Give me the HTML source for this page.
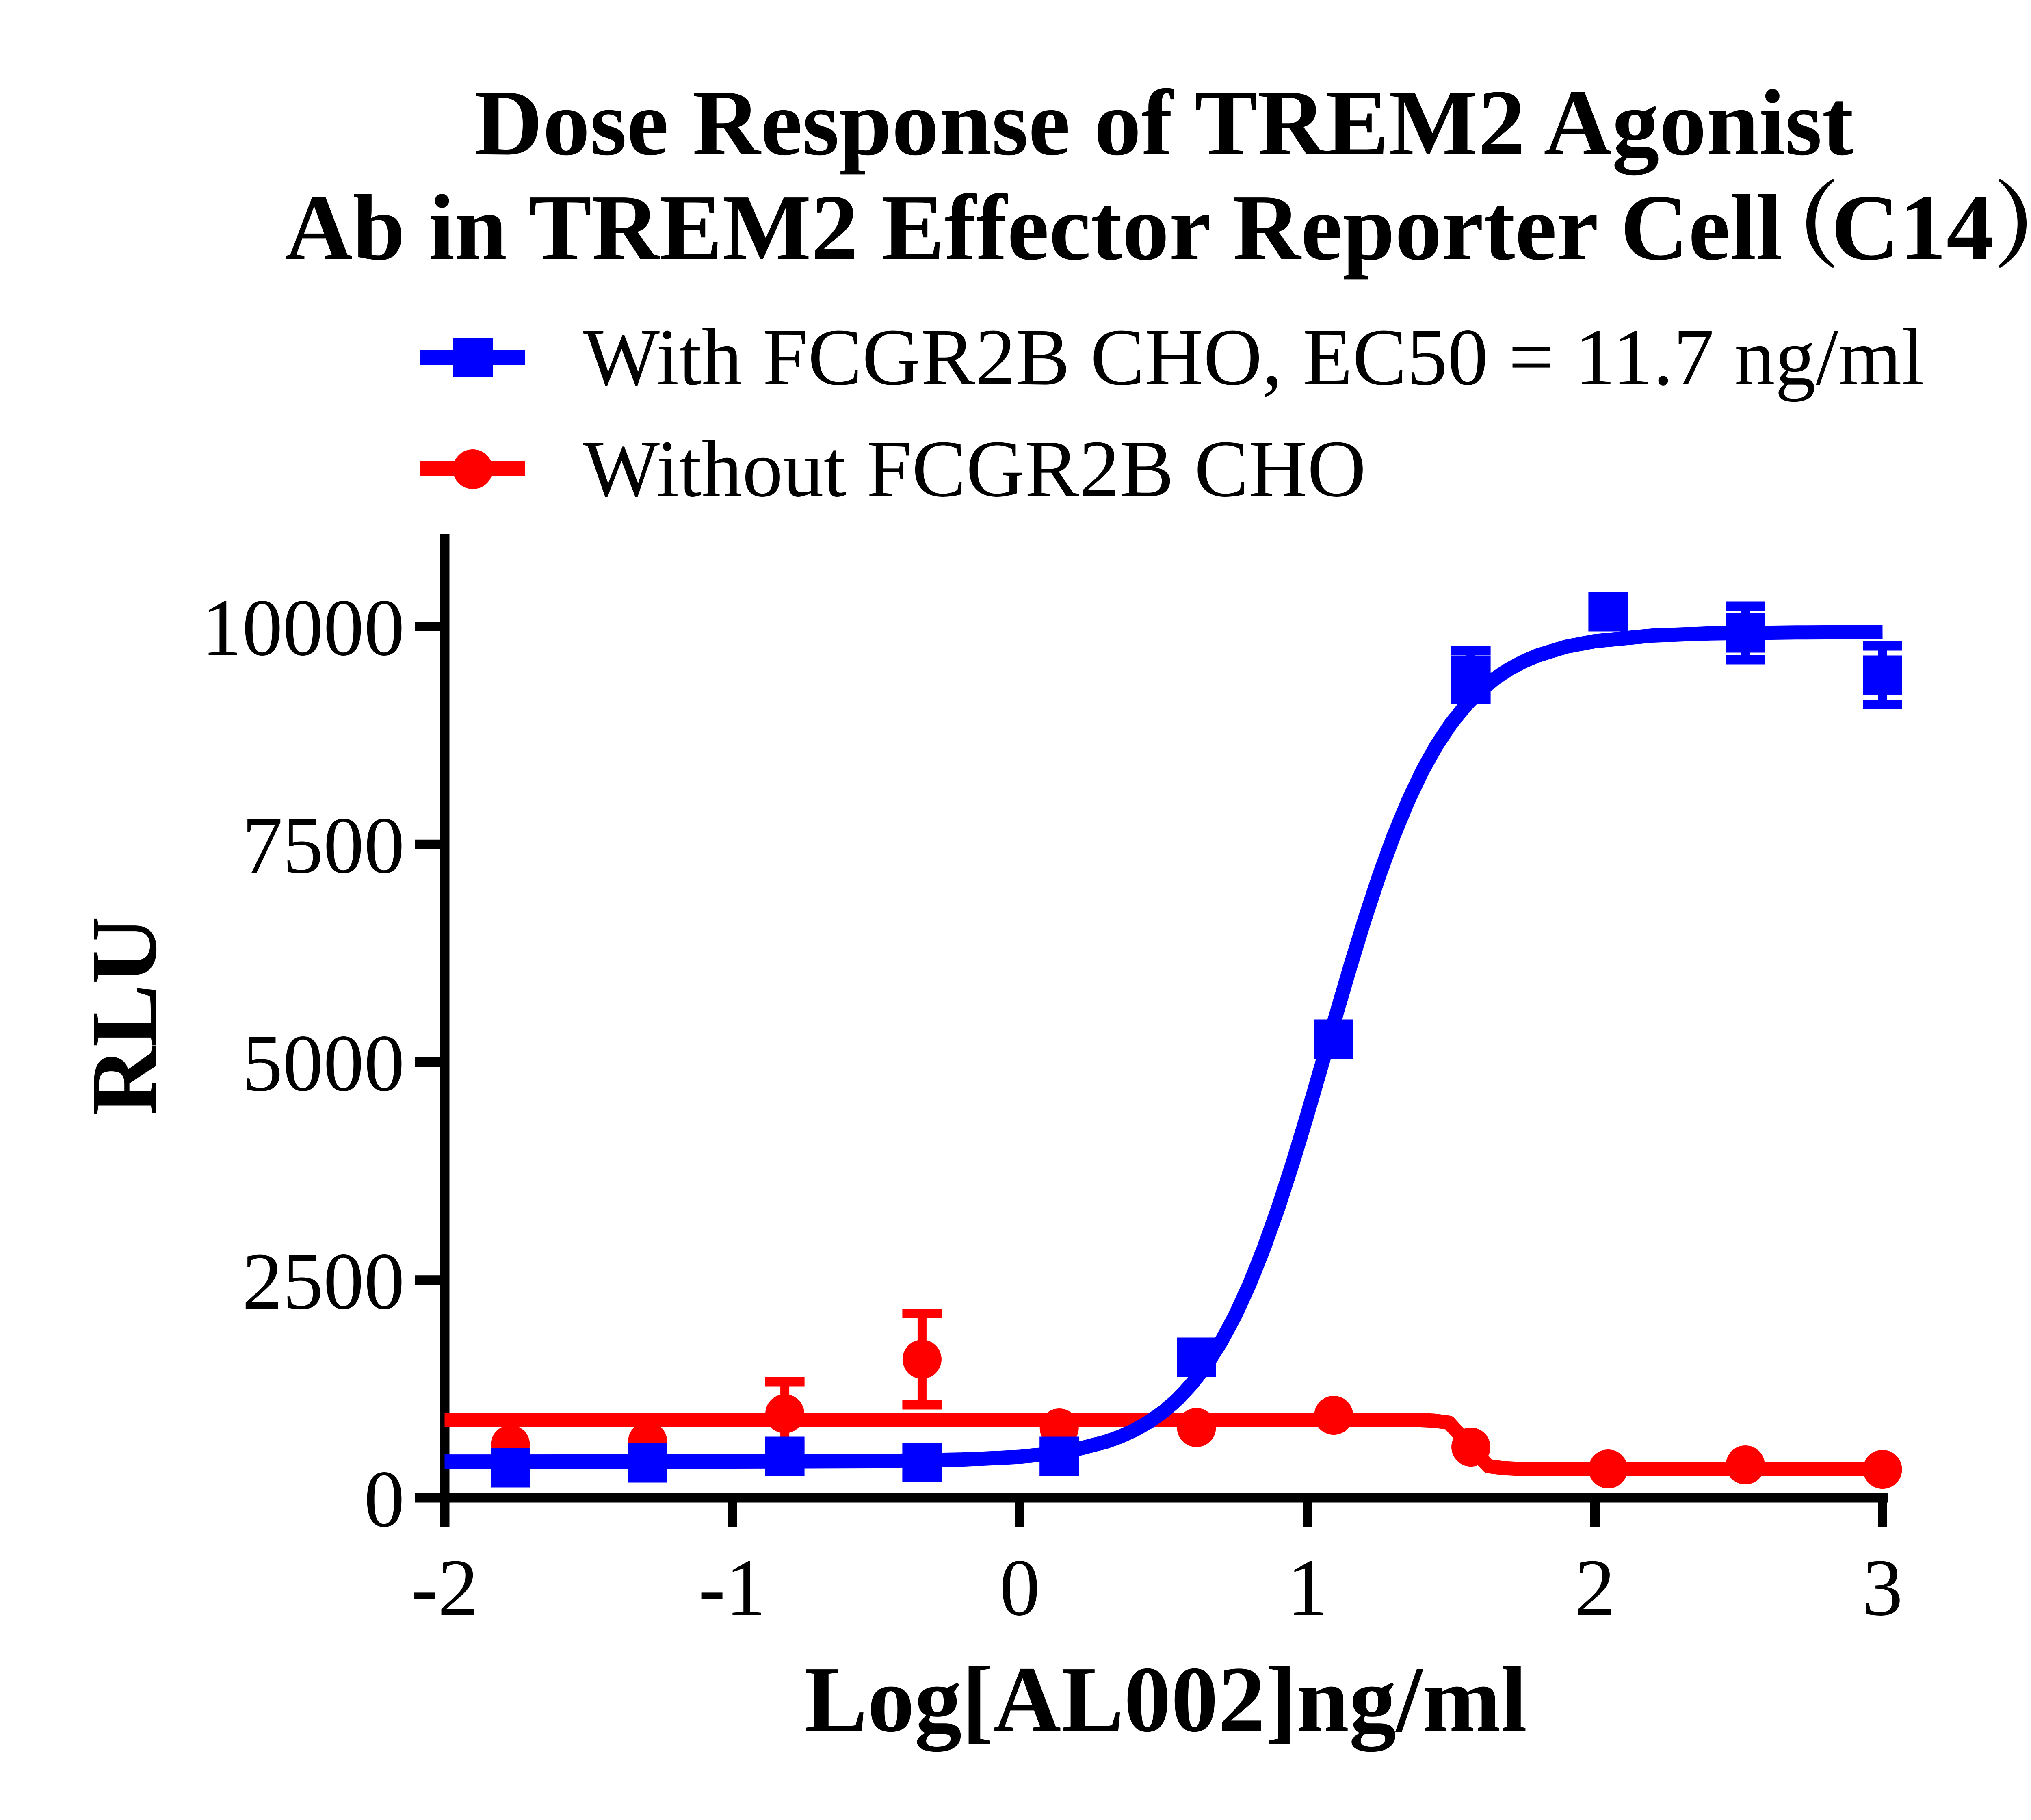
<!DOCTYPE html>
<html>
<head>
<meta charset="utf-8">
<style>
  html, body { margin: 0; padding: 0; background: #ffffff; }
  body { width: 5206px; height: 4480px; overflow: hidden; }
  svg { display: block; }
  .serif { font-family: "Liberation Serif", "Noto Serif CJK SC", serif; }
</style>
</head>
<body>
<svg xmlns="http://www.w3.org/2000/svg" width="5206" height="4480" viewBox="0 0 5206 4480">
  <rect x="0" y="0" width="5206" height="4480" fill="#ffffff"/>

  <!-- Title -->
  <text class="serif" x="1168" y="380" font-size="232" font-weight="bold" fill="#000" textLength="3395" lengthAdjust="spacingAndGlyphs">Dose Response of TREM2 Agonist</text>
  <text class="serif" x="701" y="638" font-size="232" font-weight="bold" fill="#000" textLength="3687" lengthAdjust="spacingAndGlyphs">Ab in TREM2 Effector Reporter Cell</text>
  <text x="4298" y="638" font-size="232" font-weight="bold" fill="#000" font-family="'Noto Serif CJK SC', 'Noto Sans CJK SC', serif">（</text>
  <text class="serif" x="4508" y="638" font-size="232" font-weight="bold" fill="#000">C14</text>
  <text x="4906" y="638" font-size="232" font-weight="bold" fill="#000" font-family="'Noto Serif CJK SC', 'Noto Sans CJK SC', serif">）</text>

  <!-- Legend -->
  <line x1="1034" y1="880" x2="1292" y2="880" stroke="#0000ff" stroke-width="38"/>
  <rect x="1115" y="831" width="99" height="98" fill="#0000ff"/>
  <text class="serif" x="1435" y="946" font-size="200" fill="#000" textLength="3302" lengthAdjust="spacingAndGlyphs">With FCGR2B CHO, EC50 = 11.7 ng/ml</text>

  <line x1="1034" y1="1154" x2="1292" y2="1154" stroke="#ff0000" stroke-width="36"/>
  <circle cx="1164" cy="1155" r="49" fill="#ff0000"/>
  <text class="serif" x="1435" y="1221" font-size="200" fill="#000" textLength="1928" lengthAdjust="spacingAndGlyphs">Without FCGR2B CHO</text>

  <!-- Axes -->
  <rect x="1083.5" y="1314" width="23" height="2445" fill="#000"/>
  <rect x="1022" y="3675.5" width="3625" height="23" fill="#000"/>
  <!-- Y ticks -->
  <rect x="1022" y="1530.5" width="73" height="23" fill="#000"/>
  <rect x="1022" y="2066.75" width="73" height="23" fill="#000"/>
  <rect x="1022" y="2603" width="73" height="23" fill="#000"/>
  <rect x="1022" y="3139.25" width="73" height="23" fill="#000"/>
  <!-- X ticks -->
  <rect x="1791" y="3687" width="23" height="72" fill="#000"/>
  <rect x="2499" y="3687" width="23" height="72" fill="#000"/>
  <rect x="3207" y="3687" width="23" height="72" fill="#000"/>
  <rect x="3915" y="3687" width="23" height="72" fill="#000"/>
  <rect x="4623" y="3687" width="23" height="72" fill="#000"/>

  <!-- Y tick labels -->
  <g class="serif" font-size="200" fill="#000" text-anchor="end">
    <text x="996" y="1612">10000</text>
    <text x="996" y="2148">7500</text>
    <text x="996" y="2684">5000</text>
    <text x="996" y="3221">2500</text>
    <text x="996" y="3757">0</text>
  </g>
  <!-- X tick labels -->
  <g class="serif" font-size="200" fill="#000" text-anchor="middle">
    <text x="1094.5" y="3975">-2</text>
    <text x="1802.5" y="3975">-1</text>
    <text x="2510.5" y="3975">0</text>
    <text x="3218.5" y="3975">1</text>
    <text x="3926.5" y="3975">2</text>
    <text x="4634.5" y="3975">3</text>
  </g>

  <!-- Axis titles -->
  <text class="serif" x="2870" y="4261" font-size="232" font-weight="bold" fill="#000" text-anchor="middle">Log[AL002]ng/ml</text>
  <text class="serif" transform="translate(383,2500) rotate(-90)" x="0" y="0" font-size="232" font-weight="bold" fill="#000" text-anchor="middle">RLU</text>

  <!-- Red series (Without FCGR2B CHO) -->
  <polyline fill="none" stroke="#ff0000" stroke-width="35" stroke-linejoin="round"
    points="1094.5,3495 3486,3495 3530,3497 3567,3502 3664,3609 3700,3614 3740,3616 4634.5,3616"/>
  <!-- red error bars -->
  <line x1="1932.1" y1="3401" x2="1932.1" y2="3559" stroke="#ff0000" stroke-width="22"/>
  <rect x="1883.6" y="3389.5" width="97" height="23" fill="#ff0000"/>
  <rect x="1883.6" y="3547.5" width="97" height="23" fill="#ff0000"/>
  <line x1="2269.9" y1="3233" x2="2269.9" y2="3458" stroke="#ff0000" stroke-width="22"/>
  <rect x="2221.4" y="3221.5" width="97" height="23" fill="#ff0000"/>
  <rect x="2221.4" y="3446.5" width="97" height="23" fill="#ff0000"/>
  <!-- red circles -->
  <g fill="#ff0000">
    <circle cx="1256.5" cy="3556" r="48"/>
    <circle cx="1594.3" cy="3548" r="48"/>
    <circle cx="1932.1" cy="3480" r="48"/>
    <circle cx="2269.9" cy="3346" r="48"/>
    <circle cx="2607.7" cy="3515" r="48"/>
    <circle cx="2945.5" cy="3514" r="48"/>
    <circle cx="3283.3" cy="3484" r="48"/>
    <circle cx="3621.1" cy="3562" r="48"/>
    <circle cx="3958.9" cy="3616" r="48"/>
    <circle cx="4296.7" cy="3606" r="48"/>
    <circle cx="4634.5" cy="3617" r="48"/>
  </g>

  <!-- Blue series (With FCGR2B CHO) -->
  <polyline fill="none" stroke="#0000ff" stroke-width="35" stroke-linejoin="round"
    points="1094.5,3597.6 1802.5,3597.5 2156.5,3596.5 2368.9,3592.6 2439.7,3589.6 2510.5,3586.0 2581.3,3578.8 2652.1,3567.3 2722.9,3548.9 2758.3,3536.1 2793.7,3519.9 2829.1,3499.7 2864.5,3474.6 2899.9,3443.5 2935.3,3405.2 2970.7,3358.8 3006.1,3302.9 3041.5,3236.6 3076.9,3159.0 3112.3,3070.1 3147.7,2970.1 3183.1,2860.5 3218.5,2743.4 3253.9,2621.1 3289.3,2498.2 3324.7,2377.3 3360.1,2261.9 3395.5,2154.8 3430.9,2057.7 3466.3,1972.1 3501.7,1897.4 3537.1,1834.1 3572.5,1780.9 3607.9,1737.0 3643.3,1701.0 3678.7,1671.6 3714.1,1647.7 3749.5,1628.9 3784.9,1613.6 3855.7,1591.8 3926.5,1578.3 4068.1,1564.5 4209.7,1559.2 4422.1,1556.8 4634.5,1555.9"/>
  <!-- blue error bars -->
  <line x1="3621.1" y1="1602" x2="3621.1" y2="1721" stroke="#0000ff" stroke-width="22"/>
  <rect x="3572.6" y="1590.5" width="97" height="23" fill="#0000ff"/>
  <rect x="3572.6" y="1709.5" width="97" height="23" fill="#0000ff"/>
  <line x1="4296.7" y1="1492" x2="4296.7" y2="1624" stroke="#0000ff" stroke-width="22"/>
  <rect x="4248.2" y="1480.5" width="97" height="23" fill="#0000ff"/>
  <rect x="4248.2" y="1612.5" width="97" height="23" fill="#0000ff"/>
  <line x1="4634.5" y1="1590" x2="4634.5" y2="1734" stroke="#0000ff" stroke-width="22"/>
  <rect x="4586" y="1578.5" width="97" height="23" fill="#0000ff"/>
  <rect x="4586" y="1722.5" width="97" height="23" fill="#0000ff"/>
  <!-- blue squares -->
  <g fill="#0000ff">
    <rect x="1208" y="3564.5" width="97" height="97"/>
    <rect x="1545.8" y="3552.5" width="97" height="97"/>
    <rect x="1883.6" y="3536.5" width="97" height="97"/>
    <rect x="2221.4" y="3551.5" width="97" height="97"/>
    <rect x="2559.2" y="3536.5" width="97" height="97"/>
    <rect x="2897" y="3292.5" width="97" height="97"/>
    <rect x="3234.8" y="2509.5" width="97" height="97"/>
    <rect x="3572.6" y="1614.5" width="97" height="97"/>
    <rect x="3910.4" y="1457.5" width="97" height="97"/>
    <rect x="4248.2" y="1509.5" width="97" height="97"/>
    <rect x="4586" y="1613.5" width="97" height="97"/>
  </g>
</svg>
</body>
</html>
